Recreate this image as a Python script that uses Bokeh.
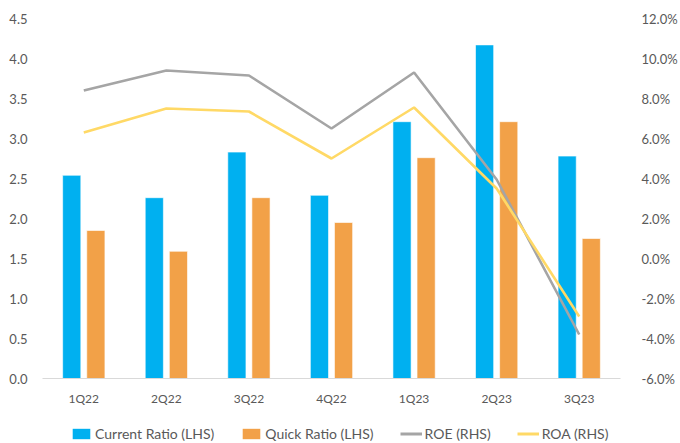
from bokeh.plotting import figure
from bokeh.layouts import column
from bokeh.models import (ColumnDataSource, FactorRange, Range1d, LinearAxis,
                          PrintfTickFormatter, FixedTicker, Legend, LegendItem)
from bokeh.transform import dodge
from bokeh.embed import file_html
from bokeh.resources import INLINE

quarters = ["1Q22", "2Q22", "3Q22", "4Q22", "1Q23", "2Q23", "3Q23"]
current_ratio = [2.54, 2.26, 2.83, 2.29, 3.21, 4.17, 2.78]
quick_ratio = [1.85, 1.59, 2.26, 1.95, 2.76, 3.21, 1.75]
roe_pct = [8.4, 9.4, 9.15, 6.5, 9.3, 3.95, -3.8]
roa_pct = [6.3, 7.5, 7.35, 5.0, 7.55, 3.5, -2.9]
left_ticks = [0.0, 0.5, 1.0, 1.5, 2.0, 2.5, 3.0, 3.5, 4.0, 4.5]
right_ticks = [-6, -4, -2, 0, 2, 4, 6, 8, 10, 12]
series_names = ["Current Ratio (LHS)", "Quick Ratio (LHS)", "ROE (RHS)", "ROA (RHS)"]

FONT = "Lato"
TXT = "#595959"
C_CUR, C_QUICK, C_ROE, C_ROA = "#00B0F0", "#F2A148", "#A5A5A5", "#FFD966"

src = ColumnDataSource(data=dict(q=quarters, cur=current_ratio, quick=quick_ratio,
                                 roe=roe_pct, roa=roa_pct))

p = figure(x_range=FactorRange(*quarters, range_padding=0),
           y_range=Range1d(0, 4.5),
           width=680, height=408, output_backend="svg", toolbar_location=None,
           min_border_left=42, min_border_right=60, min_border_top=18,
           min_border_bottom=26)
p.outline_line_color = None
p.xgrid.grid_line_color = None
p.ygrid.grid_line_color = None
p.background_fill_color = "white"
p.border_fill_color = "white"

p.extra_y_ranges = {"pct": Range1d(-6, 12)}

p.vbar(x=dodge("q", -0.146, range=p.x_range), top="cur", width=0.22,
       source=src, fill_color=C_CUR, line_color="white", line_width=0.6)
p.vbar(x=dodge("q", 0.146, range=p.x_range), top="quick", width=0.22,
       source=src, fill_color=C_QUICK, line_color="white", line_width=0.6)
p.line(x="q", y="roe", source=src, y_range_name="pct",
       line_color=C_ROE, line_width=2.6)
p.line(x="q", y="roa", source=src, y_range_name="pct",
       line_color=C_ROA, line_width=2.6)

# left axis
ya = p.yaxis[0]
ya.ticker = FixedTicker(ticks=left_ticks)
ya.formatter = PrintfTickFormatter(format="%.1f")
ya.axis_line_color = None
ya.major_tick_line_color = None
ya.minor_tick_line_color = None
ya.major_label_text_font = FONT
ya.major_label_text_font_size = "13px"
ya.major_label_text_color = TXT
ya.major_label_standoff = 9

# right axis
ra = LinearAxis(y_range_name="pct", ticker=FixedTicker(ticks=right_ticks),
                formatter=PrintfTickFormatter(format="%.1f%%"))
ra.axis_line_color = None
ra.major_tick_line_color = None
ra.minor_tick_line_color = None
ra.major_label_text_font = FONT
ra.major_label_text_font_size = "13px"
ra.major_label_text_color = TXT
ra.major_label_standoff = 15
p.add_layout(ra, "right")

# x axis
xa = p.xaxis[0]
xa.axis_line_color = "#D9D9D9"
xa.axis_line_width = 1
xa.major_tick_line_color = None
xa.minor_tick_line_color = None
xa.major_label_text_font = FONT
xa.major_label_text_font_size = "12px"
xa.major_label_text_color = TXT
xa.major_label_standoff = 6

# legend strip (separate figure below the chart; its frame aligns with the chart's)
lg = figure(width=680, height=35, output_backend="svg", toolbar_location=None,
            x_range=Range1d(0, 1), y_range=Range1d(0, 1),
            min_border_top=0, min_border_bottom=0)
lg.axis.visible = False
lg.grid.visible = False
lg.outline_line_color = None
lg.border_fill_color = "white"
nan = float("nan")
blank = ColumnDataSource(data=dict(x=[nan, nan], y=[nan, nan]))
l_cur = lg.vbar(x="x", top="y", width=0.1, source=blank, fill_color=C_CUR, line_color=None)
l_quick = lg.vbar(x="x", top="y", width=0.1, source=blank, fill_color=C_QUICK, line_color=None)
l_roe = lg.line(x="x", y="y", source=blank, line_color=C_ROE, line_width=3)
l_roa = lg.line(x="x", y="y", source=blank, line_color=C_ROA, line_width=3)

legend = Legend(items=[
    LegendItem(label=series_names[0], renderers=[l_cur]),
    LegendItem(label=series_names[1], renderers=[l_quick]),
    LegendItem(label=series_names[2], renderers=[l_roe]),
    LegendItem(label=series_names[3], renderers=[l_roa]),
], orientation="horizontal", location=(28, 1))
legend.label_text_font = FONT
legend.label_text_font_size = "14px"
legend.label_text_color = TXT
legend.glyph_width = 22
legend.glyph_height = 13
legend.label_standoff = 3
legend.spacing = 26
legend.margin = 0
legend.padding = 0
legend.border_line_color = None
legend.background_fill_alpha = 0
lg.add_layout(legend, "center")

layout = column(p, lg, spacing=0)
open("out.html", "w").write(file_html(layout, INLINE))
